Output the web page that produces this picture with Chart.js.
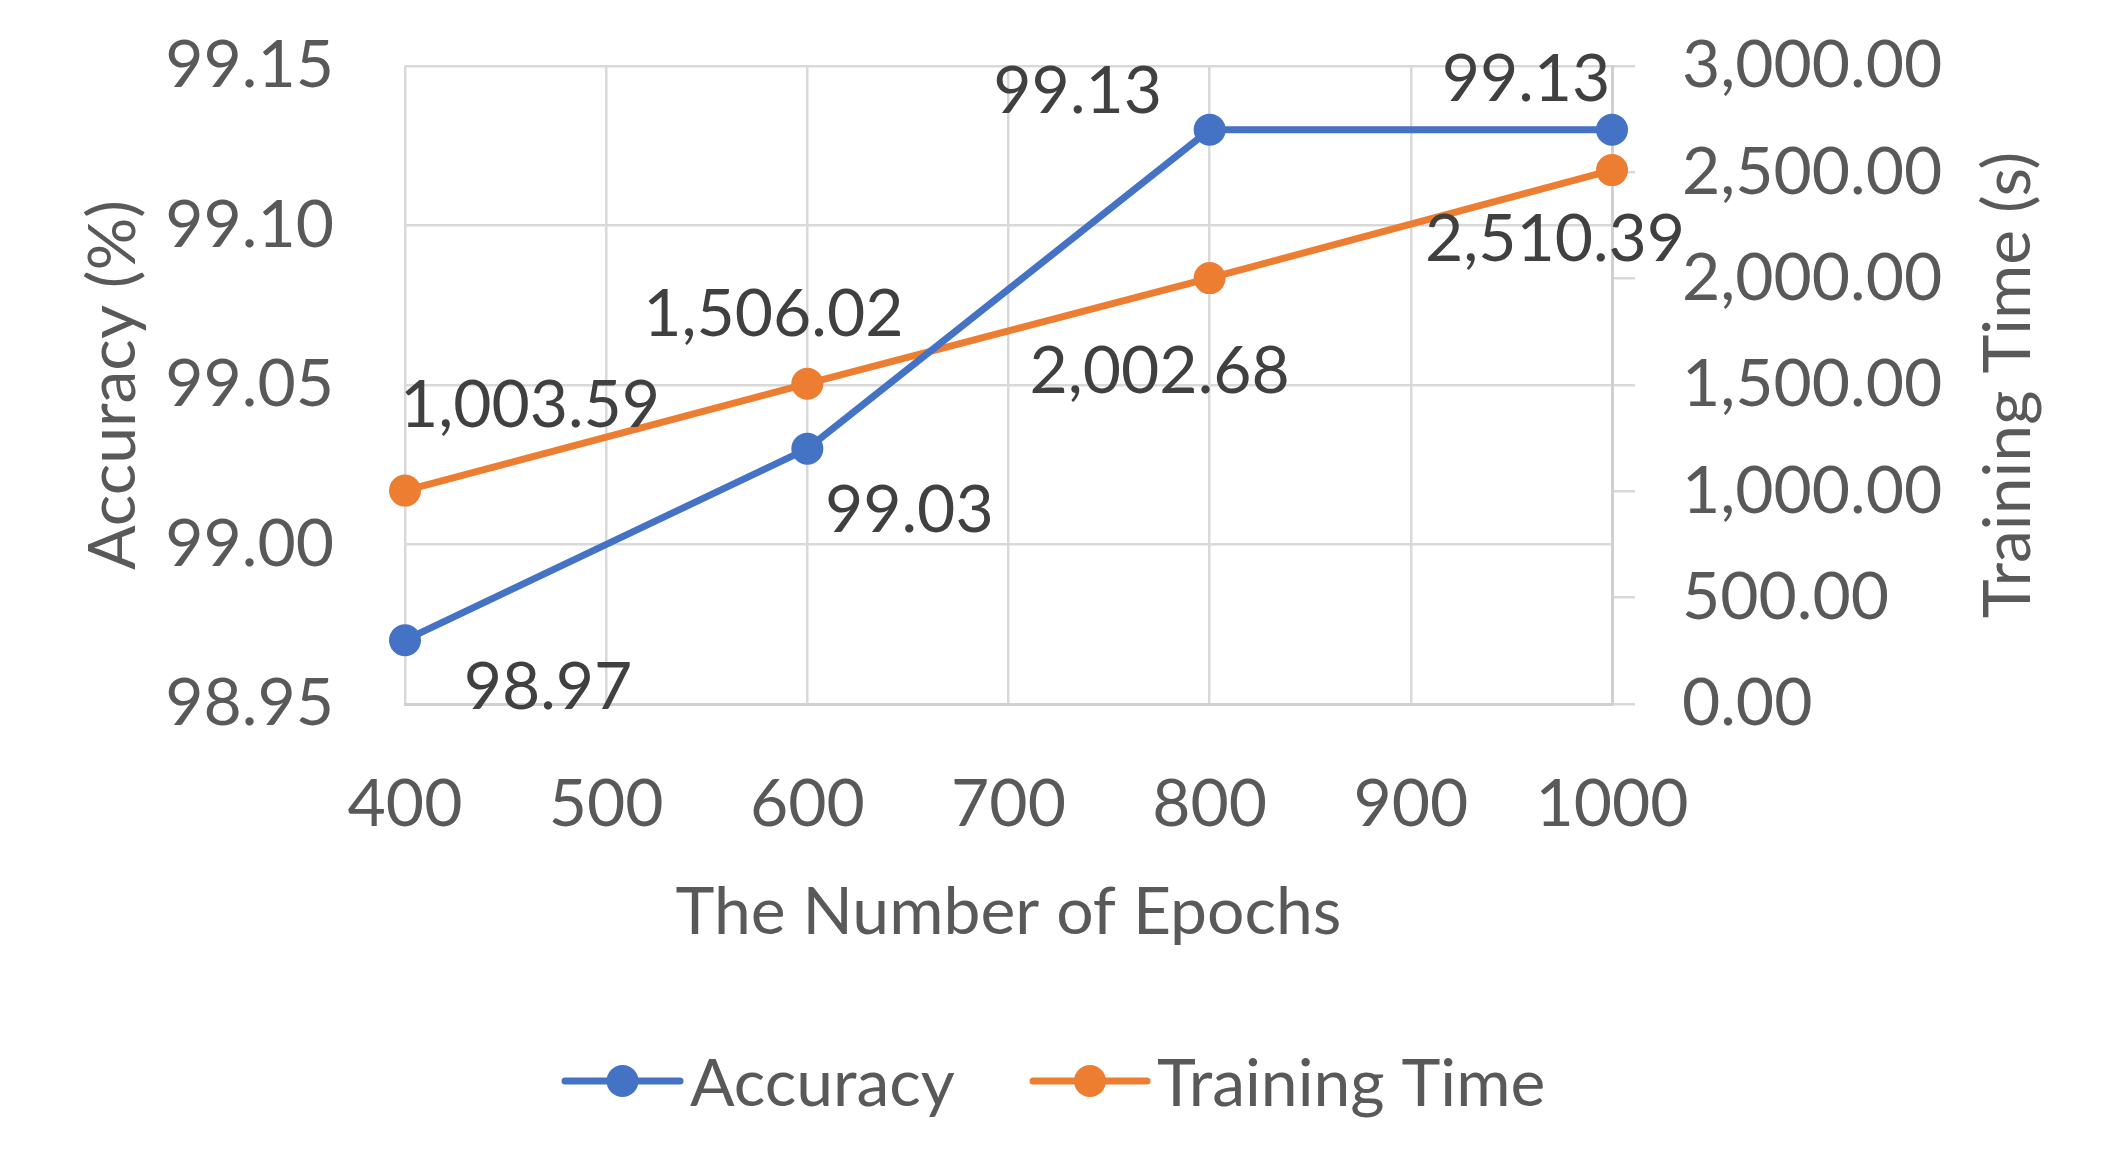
<!DOCTYPE html>
<html><head><meta charset="utf-8">
<script src="https://cdn.jsdelivr.net/npm/chart.js@4"></script>
<style>html,body{margin:0;padding:0;background:#fff;overflow:hidden}</style>
</head><body>
<canvas id="c" width="2110" height="1171"></canvas>
<script>
// ---- data ----
const epochs = [400, 600, 800, 1000];
const accuracy = [98.97, 99.03, 99.13, 99.13];
const trainingTime = [1003.59, 1506.02, 2002.68, 2510.39];
const seriesNames = ['Accuracy', 'Training Time'];
const xTitle = 'The Number of Epochs';
const yLeftTitle = 'Accuracy (%)';
const yRightTitle = 'Training Time (s)';

// ---- style ----
const FONT = 'Lato';
const FS = 66;
const TICK_COLOR = '#595959';
const LABEL_COLOR = '#404040';
const GRID = '#D9D9D9';
const BLUE = '#4472C4';
const ORANGE = '#ED7D31';

const fmt2 = v => Number(v).toLocaleString('en-US', {minimumFractionDigits: 2, maximumFractionDigits: 2});

const labelPlugin = {
  id: 'extras',
  afterDatasetsDraw(chart, args, opts) {
    const ctx = chart.ctx;
    ctx.save();
    ctx.font = FS + 'px ' + FONT;
    ctx.fillStyle = LABEL_COLOR;
    ctx.textAlign = 'center';
    ctx.textBaseline = 'middle';
    chart.data.datasets.forEach((ds, di) => {
      const meta = chart.getDatasetMeta(di);
      const offs = opts.offsets[di];
      meta.data.forEach((pt, i) => {
        const raw = ds.data[i].y;
        const txt = di === 0 ? raw.toFixed(2) : fmt2(raw);
        ctx.fillText(txt, pt.x + offs[i][0], pt.y + offs[i][1] + 4);
      });
    });
    ctx.restore();
  },
  afterDraw(chart, args, opts) {
    const ctx = chart.ctx;
    ctx.save();
    // right axis title (reads bottom-to-top)
    const y1 = chart.scales.y1;
    ctx.font = FS + 'px ' + FONT;
    ctx.fillStyle = TICK_COLOR;
    ctx.textAlign = 'center';
    ctx.textBaseline = 'middle';
    ctx.translate(opts.rightTitleX, (y1.top + y1.bottom) / 2);
    ctx.rotate(-Math.PI / 2);
    ctx.fillText(yRightTitle, 0, 0);
    ctx.restore();
    // legend
    ctx.save();
    ctx.font = FS + 'px ' + FONT;
    ctx.textAlign = 'left';
    ctx.textBaseline = 'middle';
    chart.data.datasets.forEach((ds, di) => {
      const it = opts.legend[di];
      const y = opts.legendY;
      ctx.strokeStyle = ds.borderColor;
      ctx.lineWidth = ds.borderWidth;
      ctx.lineCap = 'round';
      ctx.beginPath(); ctx.moveTo(it.x0, y); ctx.lineTo(it.x1, y); ctx.stroke();
      ctx.fillStyle = ds.backgroundColor;
      ctx.beginPath(); ctx.arc((it.x0 + it.x1) / 2, y, ds.pointRadius, 0, Math.PI * 2); ctx.fill();
      ctx.fillStyle = TICK_COLOR;
      ctx.fillText(ds.label, it.tx, y + 4);
    });
    ctx.restore();
  }
};

const ctx = document.getElementById('c').getContext('2d');
new Chart(ctx, {
  type: 'line',
  data: {
    datasets: [
      { label: seriesNames[0], data: epochs.map((x, i) => ({x, y: accuracy[i]})), yAxisID: 'y',
        borderColor: BLUE, backgroundColor: BLUE, borderWidth: 7, pointRadius: 16, pointHoverRadius: 16,
        pointBorderWidth: 0, tension: 0, clip: false },
      { label: seriesNames[1], data: epochs.map((x, i) => ({x, y: trainingTime[i]})), yAxisID: 'y1',
        borderColor: ORANGE, backgroundColor: ORANGE, borderWidth: 7, pointRadius: 16, pointHoverRadius: 16,
        pointBorderWidth: 0, tension: 0, clip: false }
    ]
  },
  options: {
    responsive: false, animation: false, devicePixelRatio: 1,
    layout: {padding: {top: 66, left: 0, right: 0, bottom: 0}},
    plugins: {
      legend: {display: false}, tooltip: {enabled: false},
      extras: {
        offsets: [
          [[143, 44], [102, 58], [-132, -42], [-86, -54]],
          [[125, -89], [-34, -73], [-50, 90], [-57, 66]]
        ],
        rightTitleX: 2009,
        legendY: 1081,
        legend: [{x0: 565, x1: 680, tx: 690}, {x0: 1033, x1: 1147, tx: 1157}]
      }
    },
    scales: {
      x: {
        type: 'linear', min: 400, max: 1000,
        ticks: {stepSize: 100, color: TICK_COLOR, font: {family: FONT, size: FS}, padding: 61, callback: v => String(v)},
        grid: {color: GRID, lineWidth: 2.5, drawTicks: false},
        border: {display: true, color: '#D0D0D0', width: 3},
        title: {display: true, text: xTitle, color: TICK_COLOR, font: {family: FONT, size: FS}, padding: {top: 0, bottom: 1171 - 908 - 40 - 4}},
        afterFit: s => { s.height = 467; }
      },
      y: {
        position: 'left', min: 98.95, max: 99.15,
        ticks: {stepSize: 0.05, color: TICK_COLOR, font: {family: FONT, size: FS}, padding: 71, callback: v => Number(v).toFixed(2)},
        grid: {color: GRID, lineWidth: 2.5, drawTicks: false},
        border: {display: false},
        title: {display: true, text: yLeftTitle, color: TICK_COLOR, font: {family: FONT, size: FS}, padding: {top: 114 - 40, bottom: 0}},
        afterFit: s => { s.width = 405; s.paddingTop = 0; s.paddingBottom = 0; }
      },
      y1: {
        position: 'right', min: 0, max: 3000,
        ticks: {stepSize: 500, color: TICK_COLOR, font: {family: FONT, size: FS}, padding: 47, callback: v => fmt2(v)},
        grid: {drawOnChartArea: false, drawTicks: true, tickLength: 23, color: GRID, lineWidth: 2.5},
        border: {display: true, color: '#D0D0D0', width: 3},
        title: {display: false},
        afterFit: s => { s.width = 498; s.paddingTop = 0; s.paddingBottom = 0; }
      }
    }
  },
  plugins: [labelPlugin]
});
</script>
</body></html>
